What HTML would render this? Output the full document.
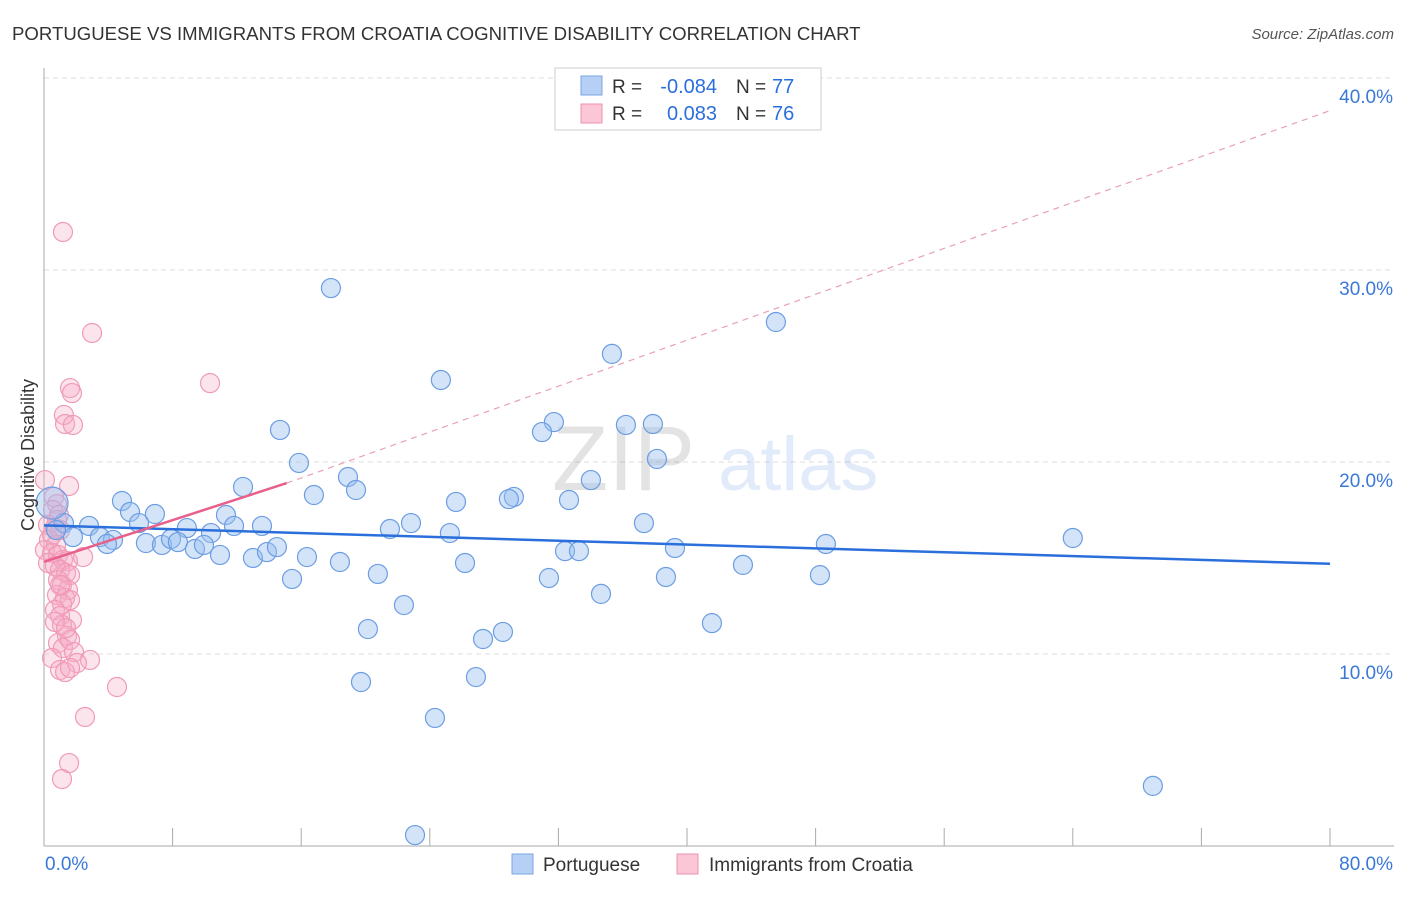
<!DOCTYPE html>
<html><head><meta charset="utf-8">
<style>
body{margin:0;background:#fff;font-family:"Liberation Sans",sans-serif;}
svg text{font-family:"Liberation Sans",sans-serif;}
</style></head>
<body>
<svg id="chart" width="1406" height="892">
<text x="12" y="40" font-size="18.6" fill="#333">PORTUGUESE VS IMMIGRANTS FROM CROATIA COGNITIVE DISABILITY CORRELATION CHART</text>
<text x="1394" y="39" font-size="15" fill="#555" font-style="italic" text-anchor="end">Source: ZipAtlas.com</text>
<g id="grid"></g>
<g id="watermark" opacity="0.13">
<text x="552" y="490" font-size="92" font-family="Liberation Serif" fill="#333">ZIP</text>
<text x="718" y="490" font-size="76" fill="#2a6fdb">atlas</text>
</g>
<g id="points"></g>
<g id="lines"></g>
<text transform="translate(34,455) rotate(-90)" font-size="18" fill="#333" text-anchor="middle">Cognitive Disability</text>
<g>
<rect x="555" y="68" width="266" height="62" fill="#fff" stroke="#ccc"/>
<rect x="581" y="76" width="21" height="19" fill="#b6d0f5" stroke="#7aa6e6"/>
<text x="612" y="93" font-size="19" fill="#333">R =</text>
<text x="717" y="93" font-size="20" fill="#2a6fdb" text-anchor="end">-0.084</text>
<text x="736" y="93" font-size="19" fill="#333">N =</text>
<text x="772" y="93" font-size="20" fill="#2a6fdb">77</text>
<rect x="581" y="104" width="21" height="19" fill="#fbc6d6" stroke="#ee93b0"/>
<text x="612" y="120" font-size="19" fill="#333">R =</text>
<text x="717" y="120" font-size="20" fill="#2a6fdb" text-anchor="end">0.083</text>
<text x="736" y="120" font-size="19" fill="#333">N =</text>
<text x="772" y="120" font-size="20" fill="#2a6fdb">76</text>
</g>
<g>
<rect x="512" y="854" width="21" height="20" fill="#b6d0f5" stroke="#7aa6e6"/>
<text x="543" y="871" font-size="19" fill="#333">Portuguese</text>
<rect x="677" y="854" width="21" height="20" fill="#fbc6d6" stroke="#ee93b0"/>
<text x="709" y="871" font-size="19" fill="#333">Immigrants from Croatia</text>
</g>
</svg>
<script>
const xTickLabels = ["0.0%", "80.0%"];
const yTicks = [10, 20, 30, 40];
const bluePts = [[17.85,29.06],[45.53,27.29],[35.33,25.63],[24.69,24.27],[14.68,21.67],[31.72,22.08],[30.98,21.56],[36.2,21.93],[37.88,21.98],[38.13,20.16],[15.86,19.95],[18.91,19.22],[12.38,18.7],[19.41,18.54],[16.79,18.28],[4.85,17.97],[34.02,19.06],[25.63,17.92],[29.23,18.18],[28.92,18.07],[32.66,18.02],[6.9,17.29],[5.35,17.4],[11.32,17.24],[1.24,16.82],[2.8,16.67],[5.91,16.82],[8.89,16.56],[10.39,16.3],[11.82,16.67],[13.56,16.67],[21.52,16.51],[22.83,16.82],[25.25,16.3],[37.32,16.82],[1.8,16.09],[3.48,16.09],[4.29,15.94],[3.92,15.73],[6.34,15.78],[7.34,15.68],[7.9,15.99],[8.33,15.83],[9.39,15.47],[9.95,15.68],[10.95,15.16],[13.0,15.0],[13.87,15.31],[14.49,15.57],[16.36,15.05],[18.41,14.79],[26.19,14.74],[32.41,15.36],[33.28,15.36],[39.25,15.52],[48.64,15.73],[64.0,16.04],[43.48,14.64],[15.43,13.91],[20.77,14.17],[31.41,13.96],[38.69,14.01],[48.27,14.11],[22.39,12.55],[34.65,13.13],[41.55,11.61],[20.15,11.3],[27.31,10.78],[28.55,11.15],[19.72,8.54],[26.87,8.8],[24.32,6.67],[23.08,0.57],[68.98,3.13],[0.5,17.86],[0.75,16.46]];
const pinkPts = [[1.18,31.98],[2.99,26.72],[10.33,24.11],[1.62,23.85],[1.74,23.59],[1.24,22.45],[1.31,21.98],[1.8,21.93],[0.06,19.06],[1.56,18.75],[0.62,18.18],[0.81,17.81],[0.56,17.5],[0.93,17.24],[0.81,16.98],[0.25,16.72],[0.68,16.56],[1.0,16.46],[0.5,16.2],[0.31,15.94],[0.75,15.68],[0.06,15.42],[0.5,15.26],[0.87,15.16],[1.18,14.9],[1.49,14.84],[0.25,14.74],[0.68,14.58],[2.43,15.05],[1.0,14.38],[1.37,14.22],[1.62,14.11],[0.87,13.85],[1.12,13.59],[1.49,13.33],[0.81,13.07],[1.31,12.92],[1.62,12.81],[1.12,12.6],[0.68,12.29],[1.0,11.98],[1.74,11.77],[1.12,11.51],[1.43,10.94],[0.87,10.57],[1.18,10.31],[1.62,10.73],[1.87,10.1],[0.5,9.79],[2.86,9.69],[2.05,9.53],[1.0,9.17],[1.31,9.06],[1.62,9.27],[4.54,8.28],[2.55,6.72],[1.56,4.32],[1.12,3.49],[0.68,11.67],[1.37,11.35],[1.0,13.59]];
const blueTrend = [16.7, 14.7];   // y at x=0, x=80
const pinkTrend = [14.8, 18.9, 15.1, 38.3]; // y at x=0, y at solid end, solid end x, y at x=80

const NS="http://www.w3.org/2000/svg";
const X0=44,X1=1330,Y0=846,Y40=78;
const sx=v=>X0+(v/80)*(X1-X0);
const sy=v=>Y0-(v/40)*(Y0-Y40);
function mk(tag,attrs,parent){const e=document.createElementNS(NS,tag);for(const k in attrs)e.setAttribute(k,attrs[k]);parent.appendChild(e);return e;}
const grid=document.getElementById('grid');
yTicks.forEach(t=>{
  const l=mk('line',{x1:X0,x2:1394,y1:sy(t),y2:sy(t),stroke:'#ddd','stroke-dasharray':'5,4'},grid);
  
  
  const tx=mk('text',{x:1393,y:sy(t)+25,'font-size':19,fill:'#3a78d8','text-anchor':'end'},grid);
  tx.textContent=t.toFixed(1)+'%';
  
  
});
const ax=mk('line',{x1:X0,x2:X0,y1:68,y2:Y0,stroke:'#aaa'},grid);


const bx=mk('line',{x1:X0,x2:1394,y1:Y0,y2:Y0,stroke:'#aaa'},grid);


for(let i=0;i<=10;i++){
  const t=mk('line',{x1:sx(i*8),x2:sx(i*8),y1:828,y2:Y0,stroke:'#aaa'},grid);
  
  
}
[[0,'start',45],[80,'end',1393]].forEach((d,i)=>{
  const t=mk('text',{x:d[2],y:870,'font-size':19,fill:'#3a78d8','text-anchor':d[1]},grid);
  t.textContent=xTickLabels[i];
  
  
});
const pts=document.getElementById('points');
pinkPts.forEach(p=>{
  const c=mk('circle',{cx:sx(p[0]),cy:sy(p[1]),r:9.5,fill:'rgba(246,170,198,0.32)',stroke:'#f09ab6','stroke-width':1.2},pts);
  
  
});
bluePts.forEach((p,i)=>{
  const c=mk('circle',{cx:sx(p[0]),cy:sy(p[1]),r:(i===74?16:9.5),fill:'rgba(150,190,240,0.42)',stroke:'#6c9de2','stroke-width':1.2},pts);
  
  
});
const lines=document.getElementById('lines');
const bl=mk('line',{x1:sx(0),y1:sy(blueTrend[0]),x2:sx(80),y2:sy(blueTrend[1]),stroke:'#2a6fdb','stroke-width':2.5},lines);


const pl=mk('line',{x1:sx(0),y1:sy(pinkTrend[0]),x2:sx(pinkTrend[2]),y2:sy(pinkTrend[1]),stroke:'#e8608a','stroke-width':2.5},lines);


const pd=mk('line',{x1:sx(pinkTrend[2]),y1:sy(pinkTrend[1]),x2:sx(80),y2:sy(pinkTrend[3]),stroke:'#e8a0b8','stroke-width':1.2,'stroke-dasharray':'6,5'},lines);


</script>
</body></html>
